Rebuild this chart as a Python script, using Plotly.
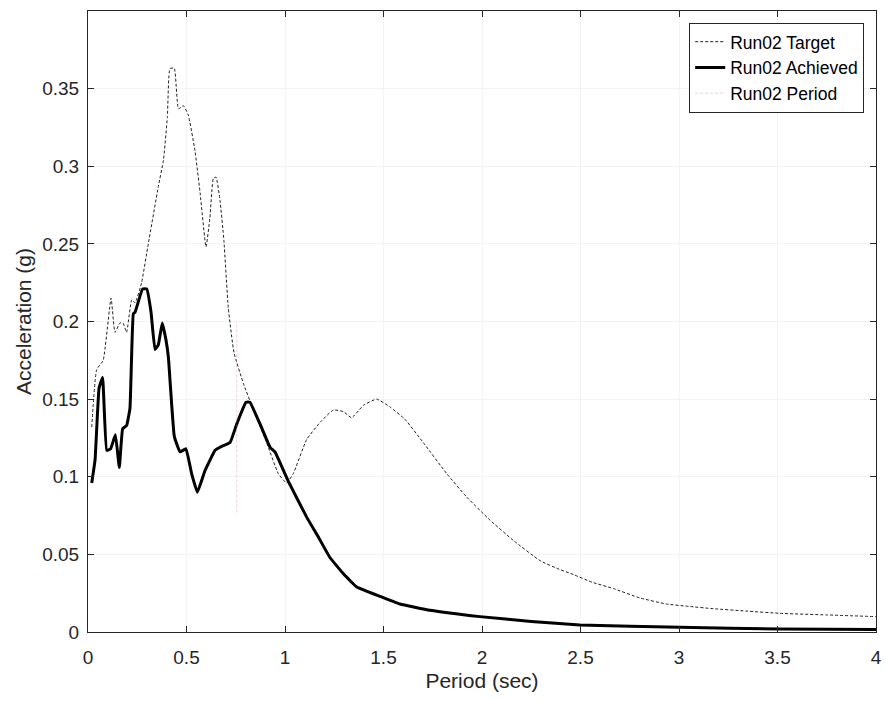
import plotly.graph_objects as go

# Target spectrum (period s, acceleration g)
target_period = [0.019, 0.044, 0.077, 0.117, 0.137, 0.162, 0.178, 0.196, 0.222, 0.239, 0.272,
                 0.306, 0.357, 0.383, 0.403, 0.416, 0.438, 0.459, 0.484, 0.509, 0.543, 0.569,
                 0.599, 0.619, 0.636, 0.650, 0.670, 0.690, 0.712, 0.741, 0.789, 0.840, 0.907,
                 0.966, 1.008, 1.042, 1.110, 1.178, 1.245, 1.296, 1.338, 1.398, 1.465, 1.533,
                 1.609, 1.702, 1.821, 1.922, 2.041, 2.159, 2.294, 2.380, 2.464, 2.560, 2.667,
                 2.800, 2.937, 3.050, 3.174, 3.340, 3.513, 3.750, 4.000]
target_accel = [0.132, 0.169, 0.175, 0.215, 0.193, 0.199, 0.199, 0.193, 0.214, 0.212, 0.225,
                0.250, 0.287, 0.304, 0.332, 0.363, 0.363, 0.337, 0.339, 0.333, 0.310, 0.283,
                0.248, 0.267, 0.292, 0.293, 0.278, 0.252, 0.209, 0.180, 0.160, 0.143, 0.122,
                0.102, 0.096, 0.102, 0.124, 0.135, 0.143, 0.142, 0.138, 0.146, 0.150, 0.145,
                0.137, 0.122, 0.102, 0.087, 0.072, 0.059, 0.046, 0.041, 0.037, 0.032, 0.028,
                0.022, 0.018, 0.0165, 0.015, 0.0135, 0.012, 0.011, 0.0099]

# Achieved spectrum
achieved_period = [0.019, 0.036, 0.056, 0.074, 0.095, 0.115, 0.139, 0.159, 0.176, 0.196, 0.213,
                   0.230, 0.239, 0.277, 0.298, 0.320, 0.340, 0.357, 0.377, 0.396, 0.408, 0.438,
                   0.467, 0.497, 0.526, 0.555, 0.594, 0.645, 0.670, 0.721, 0.755, 0.802, 0.822,
                   0.873, 0.924, 0.949, 1.017, 1.110, 1.170, 1.228, 1.300, 1.364, 1.420, 1.482,
                   1.584, 1.736, 1.990, 2.250, 2.497, 3.005, 3.513, 4.000]
achieved_accel = [0.096, 0.111, 0.157, 0.164, 0.117, 0.118, 0.127, 0.106, 0.131, 0.133, 0.144,
                  0.205, 0.206, 0.221, 0.221, 0.206, 0.182, 0.185, 0.199, 0.188, 0.177, 0.126,
                  0.116, 0.118, 0.102, 0.090, 0.104, 0.117, 0.119, 0.122, 0.134, 0.148, 0.148,
                  0.134, 0.119, 0.116, 0.097, 0.074, 0.061, 0.048, 0.037, 0.029, 0.026, 0.023,
                  0.018, 0.014, 0.0099, 0.0068, 0.0045, 0.0030, 0.0020, 0.0016]

# Period marker
period_x = [0.755, 0.755]
period_y = [0.077, 0.200]

x_ticks = [0, 0.5, 1, 1.5, 2, 2.5, 3, 3.5, 4]
x_tick_labels = ["0", "0.5", "1", "1.5", "2", "2.5", "3", "3.5", "4"]
y_ticks = [0, 0.05, 0.1, 0.15, 0.2, 0.25, 0.3, 0.35]
y_tick_labels = ["0", "0.05", "0.1", "0.15", "0.2", "0.25", "0.3", "0.35"]

FONT = "Liberation Sans, Arial, sans-serif"

fig = go.Figure()
fig.add_trace(go.Scatter(x=target_period, y=target_accel, mode="lines", name="Run02 Target",
                         line=dict(color="#222222", width=1, dash="3px,2px", shape="spline", smoothing=0.4)))
fig.add_trace(go.Scatter(x=achieved_period, y=achieved_accel, mode="lines", name="Run02 Achieved",
                         line=dict(color="black", width=3, shape="spline", smoothing=0.3)))
fig.add_trace(go.Scatter(x=period_x, y=period_y, mode="lines", name="Run02 Period",
                         line=dict(color="rgba(225,110,130,0.35)", width=1, dash="3px,2px")))

axis_common = dict(showline=True, linecolor="#262626", linewidth=1, mirror="ticks",
                   ticks="inside", ticklen=6, tickcolor="#262626", zeroline=False,
                   showgrid=True, gridcolor="#f3f3f3", gridwidth=1, automargin=False,
                   tickfont=dict(family=FONT, size=19, color="#262626"))

fig.update_layout(
    width=886, height=702,
    margin=dict(l=88, r=10, t=11, b=70),
    paper_bgcolor="white", plot_bgcolor="white",
    showlegend=True,
    legend=dict(x=0.985, y=0.981, xanchor="right", yanchor="top",
                bgcolor="white", bordercolor="#262626", borderwidth=1,
                font=dict(family=FONT, size=17.5, color="black"),
                itemwidth=30, tracegroupgap=0),
    xaxis=dict(range=[0, 4], tickvals=x_ticks, ticktext=x_tick_labels,
               title=dict(text="Period (sec)", font=dict(family=FONT, size=21, color="#262626"), standoff=6),
               ticklabelstandoff=8, **axis_common),
    yaxis=dict(range=[0, 0.4], tickvals=y_ticks, ticktext=y_tick_labels,
               title=dict(text="Acceleration (g)", font=dict(family=FONT, size=21, color="#262626"), standoff=4),
               ticklabelstandoff=4, **axis_common),
)

fig.write_html("out.html")
